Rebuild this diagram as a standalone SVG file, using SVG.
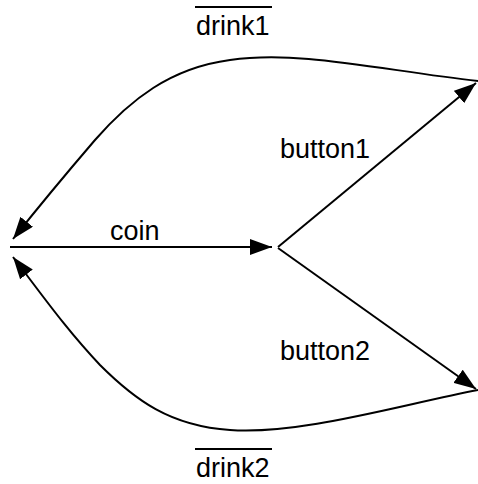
<svg xmlns="http://www.w3.org/2000/svg" width="478" height="484" viewBox="0 0 478 484">
<style>
.edge{fill:none;stroke:#000;stroke-width:2}
.lbl{font-family:"Liberation Sans",Arial,sans-serif;font-size:27px;fill:#000}
.bar{stroke:#000;stroke-width:2}
.pt{fill:none;stroke:none}
</style>
<defs>
<marker id="arr" markerUnits="userSpaceOnUse" markerWidth="22" markerHeight="16" refX="22" refY="8" orient="auto">
<path d="M0,0 L22,8 L0,16 z" fill="#000"/>
</marker>
</defs>
<rect width="478" height="484" fill="#fff"/>
<g id="nodes">
<g id="s0"><circle class="pt" cx="10" cy="247" r="2"/></g>
<g id="s1"><circle class="pt" cx="278" cy="247" r="2"/></g>
<g id="s2"><circle class="pt" cx="478" cy="82" r="2"/></g>
<g id="s3"><circle class="pt" cx="478" cy="390" r="2"/></g>
</g>
<g id="connectors">
<path class="edge" d="M10,247 L272,247" marker-end="url(#arr)"/>
<path class="edge" d="M278,247 L476,83" marker-end="url(#arr)"/>
<path class="edge" d="M278,248 L476,389" marker-end="url(#arr)"/>
<path class="edge" d="M478,81 C380,70 300,50 230,60 C170,68 130,100 95,140 C65,175 40,205 13,239" marker-end="url(#arr)"/>
<path class="edge" d="M478,390 C400,405 300,435 230,430 C170,426 135,400 100,365 C65,328 40,292 13,257" marker-end="url(#arr)"/>
</g>
<g id="labels">
<text class="lbl" x="110" y="240">coin</text>
<text class="lbl" x="280" y="158">button1</text>
<text class="lbl" x="280" y="360">button2</text>
<text class="lbl" x="196" y="35">drink1</text>
<line class="bar" x1="195" y1="7" x2="272" y2="7"/>
<text class="lbl" x="196" y="477">drink2</text>
<line class="bar" x1="195" y1="449" x2="272" y2="449"/>
</g>
</svg>
